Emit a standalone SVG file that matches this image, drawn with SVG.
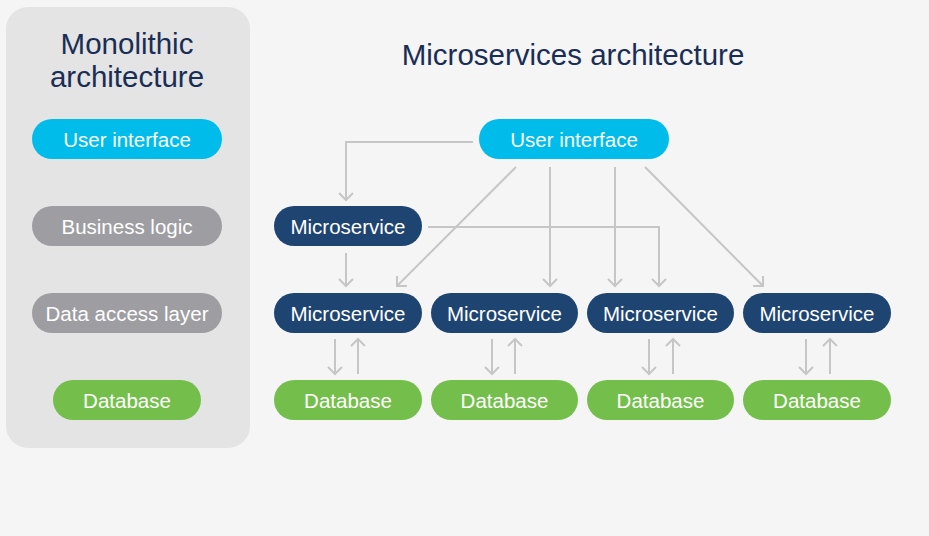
<svg xmlns="http://www.w3.org/2000/svg" width="929" height="536" viewBox="0 0 929 536">
<defs>
<style>
.t{font-family:"Liberation Sans",Arial,sans-serif;fill:#fff;font-size:20.5px;text-anchor:middle}
.h{font-family:"Liberation Sans",Arial,sans-serif;fill:#1a2e55;font-size:29.5px;text-anchor:middle}
.ui{fill:#00bceb}.gr{fill:#9e9ea2}.db{fill:#74bf4b}.ms{fill:#1e4471}
.c{fill:none;stroke:#c6c6c6;stroke-width:2}
</style>
<marker id="a" markerUnits="userSpaceOnUse" markerWidth="20" markerHeight="20" refX="0" refY="0" viewBox="-10 -10 20 20" orient="auto" overflow="visible">
<path d="M-7,-7 L0,0 L-7,7" fill="none" stroke="#c6c6c6" stroke-width="2"/>
</marker>
</defs>
<rect width="929" height="536" fill="#f5f5f5"/>
<g id="mono-panel">
<rect x="6" y="7" width="244" height="441" rx="22" fill="#e4e4e4"/>
<text class="h" x="127" y="54">Monolithic</text>
<text class="h" x="127" y="87">architecture</text>
</g>
<g id="mono-ui"><rect class="ui" x="32" y="119" width="190" height="40" rx="20"/><text class="t" x="127" y="147">User interface</text></g>
<g id="mono-bl"><rect class="gr" x="32" y="206" width="190" height="40" rx="20"/><text class="t" x="127" y="234">Business logic</text></g>
<g id="mono-dal"><rect class="gr" x="32" y="293" width="190" height="40" rx="20"/><text class="t" x="127" y="321">Data access layer</text></g>
<g id="mono-db"><rect class="db" x="53" y="380" width="148" height="40" rx="20"/><text class="t" x="127" y="408">Database</text></g>
<text class="h" x="573" y="65">Microservices architecture</text>
<g id="connectors">
<path class="c" d="M473,142 H346 V200" marker-end="url(#a)"/>
<path class="c" d="M516,167 L397,286" marker-end="url(#a)"/>
<path class="c" d="M550,167 V286" marker-end="url(#a)"/>
<path class="c" d="M615,167 V286" marker-end="url(#a)"/>
<path class="c" d="M645,167 L763,286" marker-end="url(#a)"/>
<path class="c" d="M428,227 H659 V286" marker-end="url(#a)"/>
<path class="c" d="M346,253 V286" marker-end="url(#a)"/>
<path class="c" d="M335,339 V374" marker-end="url(#a)"/>
<path class="c" d="M358,374 V339" marker-end="url(#a)"/>
<path class="c" d="M492,339 V374" marker-end="url(#a)"/>
<path class="c" d="M515,374 V339" marker-end="url(#a)"/>
<path class="c" d="M649,339 V374" marker-end="url(#a)"/>
<path class="c" d="M673,374 V339" marker-end="url(#a)"/>
<path class="c" d="M806,339 V374" marker-end="url(#a)"/>
<path class="c" d="M830,374 V339" marker-end="url(#a)"/>
</g>
<g id="ms-ui"><rect class="ui" x="479" y="119" width="190" height="40" rx="20"/><text class="t" x="574" y="147">User interface</text></g>
<g id="ms-0"><rect class="ms" x="274" y="206" width="148" height="40" rx="20"/><text class="t" x="348" y="234">Microservice</text></g>
<g id="ms-1"><rect class="ms" x="274" y="293" width="148" height="40" rx="20"/><text class="t" x="348" y="321">Microservice</text></g>
<g id="ms-2"><rect class="ms" x="431" y="293" width="147" height="40" rx="20"/><text class="t" x="504.5" y="321">Microservice</text></g>
<g id="ms-3"><rect class="ms" x="587" y="293" width="147" height="40" rx="20"/><text class="t" x="660.5" y="321">Microservice</text></g>
<g id="ms-4"><rect class="ms" x="743" y="293" width="148" height="40" rx="20"/><text class="t" x="817" y="321">Microservice</text></g>
<g id="db-1"><rect class="db" x="274" y="380" width="148" height="40" rx="20"/><text class="t" x="348" y="408">Database</text></g>
<g id="db-2"><rect class="db" x="431" y="380" width="147" height="40" rx="20"/><text class="t" x="504.5" y="408">Database</text></g>
<g id="db-3"><rect class="db" x="587" y="380" width="147" height="40" rx="20"/><text class="t" x="660.5" y="408">Database</text></g>
<g id="db-4"><rect class="db" x="743" y="380" width="148" height="40" rx="20"/><text class="t" x="817" y="408">Database</text></g>
</svg>
